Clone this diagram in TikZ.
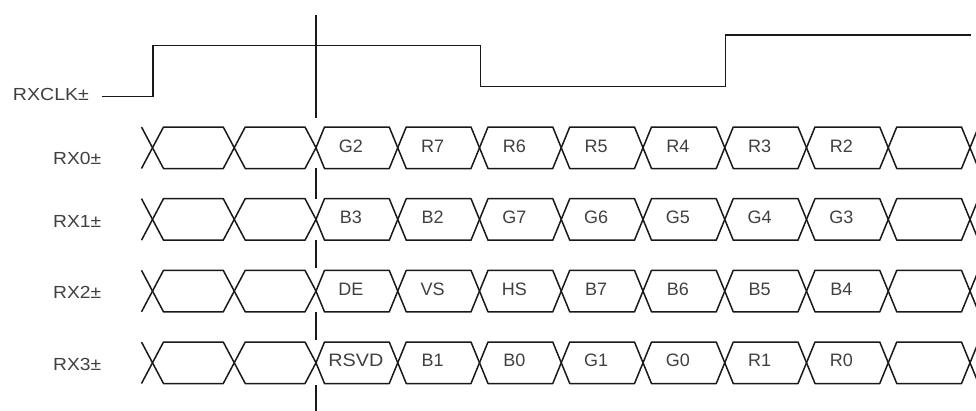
\documentclass[tikz,border=0pt]{standalone}
\usepackage{fontspec}
\setmainfont{Liberation Sans}
\begin{document}
\begin{tikzpicture}[x=1pt,y=-1pt,
  wave/.style={draw=black!90,line width=1.5pt,line join=round},
  sig/.style={font=\fontsize{17.5}{18}\selectfont,text=black!75,inner sep=0pt,anchor=west},
  bit/.style={font=\fontsize{18}{18}\selectfont,text=black!75,inner sep=0pt}]
\useasboundingbox (0,0) rectangle (976,410);
\clip (0,0) rectangle (976,410);
% clock
\node[sig] (clk) at (12.7,94) {\scalebox{1.12}[1]{RXCLK±}};
\coordinate (c0) at (101.7,96.7);
\coordinate (c1) at (153,96.7);
\coordinate (c2) at (153,45.7);
\coordinate (c3) at (480.7,45.7);
\coordinate (c4) at (480.7,86.7);
\coordinate (c5) at (725.7,86.7);
\coordinate (c6) at (725.7,35);
\coordinate (c7) at (971,35);
\draw[wave,line join=miter] (c0) -- (c1) -- (c2) -- (c3) -- (c4) -- (c5) -- (c6) -- (c7);
% reference marker
\foreach \ya/\yb in {15/118, 168/199, 240/268, 312/340, 385/412}
  \draw[wave] (316,\ya) -- (316,\yb);
% data rows
\foreach \r/\lab/\ly in {0/RX0/158, 1/RX1/221, 2/RX2/292.5, 3/RX3/364} {
  \pgfmathsetmacro\yt{127+71.67*\r}
  \pgfmathsetmacro\yb{\yt+41.5}
  \pgfmathsetmacro\ym{\yt+20.75}
  \node[sig] (lab\r) at (53,\ly) {\scalebox{1.1}[1]{\lab±}};
  \draw[wave] (141.5,\yt) -- (152.5,\ym) -- (141.5,\yb);
  \foreach \k in {0,...,10} {
    \pgfmathsetmacro\xa{152.5+81.75*\k}
    \pgfmathsetmacro\xb{\xa+81.75}
    \pgfmathsetmacro\s{\k<2 ? 11 : 8.5}
    \draw[wave] (\xa,\ym) -- (\xa+\s,\yt) -- (\xb-\s,\yt) -- (\xb,\ym) -- (\xb-\s,\yb) -- (\xa+\s,\yb) -- cycle;
  }
}
% bit labels
\foreach \t [count=\i from 2] in {G2,R7,R6,R5,R4,R3,R2}
  \node[bit] (a\i) at ({152.5+81.75*(\i+0.5)-6},146) {\t};
\foreach \t [count=\i from 2] in {B3,B2,G7,G6,G5,G4,G3}
  \node[bit] (b\i) at ({152.5+81.75*(\i+0.5)-6},217.7) {\t};
\foreach \t [count=\i from 2] in {DE,VS,HS,B7,B6,B5,B4}
  \node[bit] (d\i) at ({152.5+81.75*(\i+0.5)-6},289.3) {\t};
\node[bit] (e2) at ({152.5+81.75*2.5-1},360.5) {\scalebox{1.1}[1]{RSVD}};
\foreach \t [count=\i from 3] in {B1,B0,G1,G0,R1,R0}
  \node[bit] (e\i) at ({152.5+81.75*(\i+0.5)-6},360.5) {\t};
\end{tikzpicture}
\end{document}
